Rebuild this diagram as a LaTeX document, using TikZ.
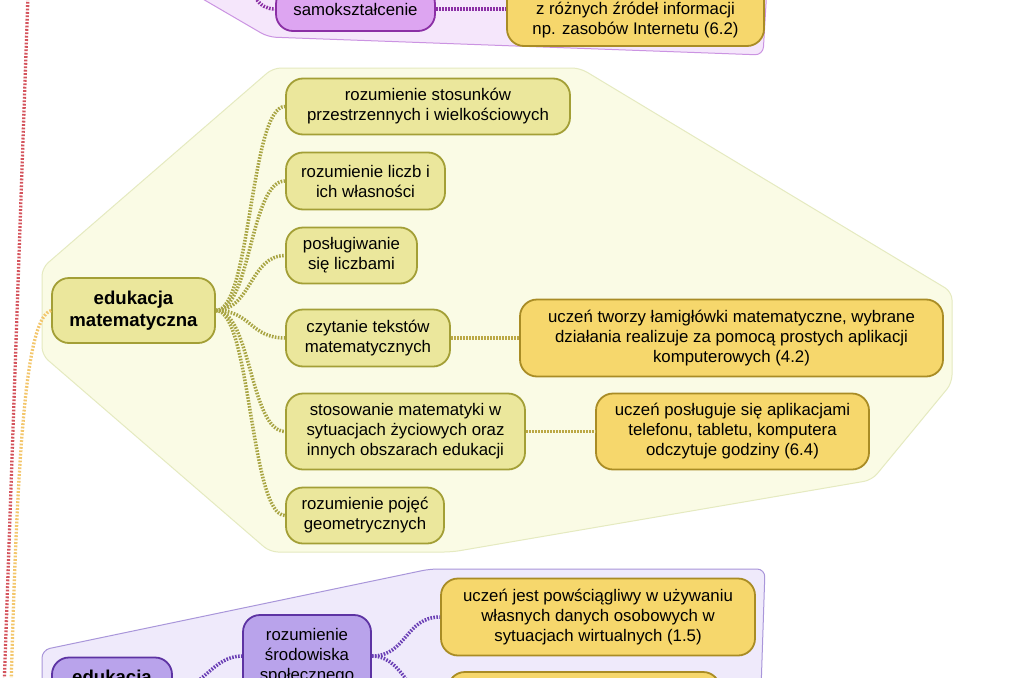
\documentclass[tikz,border=0pt]{standalone}
\usepackage{fontspec}
\setmainfont{Liberation Sans}
\definecolor{oliveF}{HTML}{EBE79C}
\definecolor{oliveD}{HTML}{A39F36}
\definecolor{oliveL}{HTML}{A8A442}
\definecolor{goldF}{HTML}{F6D76C}
\definecolor{goldD}{HTML}{A98C25}
\definecolor{goldL}{HTML}{BBA845}
\definecolor{yelF}{HTML}{FAFBE5}
\definecolor{yelD}{HTML}{E5EAC0}
\definecolor{purF}{HTML}{F5E6FB}
\definecolor{purD}{HTML}{CB94E2}
\definecolor{samoF}{HTML}{DDA5F1}
\definecolor{samoD}{HTML}{8B2FA5}
\definecolor{lavRF}{HTML}{EFEAFB}
\definecolor{lavRD}{HTML}{A996DA}
\definecolor{lavF}{HTML}{B9A3EB}
\definecolor{lavD}{HTML}{5D33A3}
\definecolor{lavL}{HTML}{6A3FB5}
\definecolor{redL}{HTML}{D4535C}
\definecolor{orgL}{HTML}{F3C66B}
\begin{document}
\begin{tikzpicture}[x=1pt,y=-1pt,
  every node/.style={font=\fontsize{16.8}{20}\selectfont, align=center, inner sep=0pt},
  box/.style={draw, line width=1.8pt, rounded corners=17pt},
  olivebox/.style={box, fill=oliveF, draw=oliveD},
  goldbox/.style={box, fill=goldF, draw=goldD},
  samobox/.style={box, fill=samoF, draw=samoD},
  lavbox/.style={box, fill=lavF, draw=lavD},
  boldtext/.style={font=\bfseries\fontsize{18.6}{22.5}\selectfont},
  region/.style={line width=1pt, rounded corners=8pt},
  dotc/.style={line width=3.5pt, dash pattern=on 1.6pt off 1.4pt},
  thindot/.style={line width=3.3pt, dash pattern=on 1.8pt off 1.6pt},
]
\useasboundingbox (0,0) rectangle (1024,677);
\clip (0,0) rectangle (1024,677);
\fill[white] (0,0) rectangle (1024,677);

% regions
\draw[region, fill=purF, draw=purD] (153,-30) -- (268,37) -- (763,55) -- (768,-30);
\draw[region, fill=yelF, draw=yelD] (273,68) -- (580,68) -- (952,292) -- (952,383) -- (872,480) -- (452,552) -- (270,552) -- (42,355) -- (42,268) -- cycle;
\draw[region, fill=lavRF, draw=lavRD] (42,720) -- (42,650) -- (430,569) -- (765,569) -- (760,720);

% left connectors from off-picture
\coordinate (redA) at (28,-5);
\coordinate (redB) at (4,690);
\coordinate (orgB) at (11,690);
\coordinate (pin) at (245,-40);
\draw[thindot, draw=redL] (redA) -- (redB);

% nodes: top
\node[samobox, minimum width=159, minimum height=44] (samo) at (355.5,9) {samokształcenie};
\node[goldbox, minimum width=257, minimum height=74] (zr) at (635.5,9) {\strut\\z różnych źródeł informacji\\np. zasobów Internetu (6.2)};

% nodes: middle
\node[olivebox, boldtext, minimum width=163, minimum height=65] (em) at (133.5,310.5) {edukacja\\matematyczna};
\node[olivebox, minimum width=284, minimum height=56] (c1) at (428,106.5) {rozumienie stosunków\\przestrzennych i wielkościowych};
\node[olivebox, minimum width=159, minimum height=57] (c2) at (365.5,181) {rozumienie liczb i\\ich własności};
\node[olivebox, minimum width=131, minimum height=56] (c3) at (351.5,255.5) {posługiwanie\\się liczbami};
\node[olivebox, minimum width=164, minimum height=57] (c4) at (368,338) {czytanie tekstów\\matematycznych};
\node[olivebox, minimum width=239, minimum height=76] (c5) at (405.5,431.5) {stosowanie matematyki w\\sytuacjach życiowych oraz\\innych obszarach edukacji};
\node[olivebox, minimum width=158, minimum height=56] (c6) at (365,515.5) {rozumienie pojęć\\geometrycznych};
\node[goldbox, minimum width=423, minimum height=77] (g1) at (731.5,338) {uczeń tworzy łamigłówki matematyczne, wybrane\\działania realizuje za pomocą prostych aplikacji\\komputerowych (4.2)};
\node[goldbox, minimum width=273, minimum height=76] (g2) at (732.5,431.5) {uczeń posługuje się aplikacjami\\telefonu, tabletu, komputera\\odczytuje godziny (6.4)};

% nodes: bottom
\node[lavbox, boldtext, minimum width=120, minimum height=65] (es) at (112,690) {edukacja\\społeczna};
\node[lavbox, minimum width=128, minimum height=82] (rs) at (307,656) {rozumienie\\środowiska\\społecznego};
\node[goldbox, minimum width=314, minimum height=77] (u1) at (598,617) {uczeń jest powściągliwy w używaniu\\własnych danych osobowych w\\sytuacjach wirtualnych (1.5)};
\node[goldbox, minimum width=272, minimum height=80] (u2) at (584,712) {};

% connectors
\draw[thindot, draw=orgL] (em.west) .. controls (28,318) and (18,420) .. (orgB);
\draw[dotc, draw=samoD] (pin) .. controls (250,-5) and (258,9) .. (samo.west);
\draw[dotc, draw=samoD] (samo.east) -- (zr.west);
\foreach \c in {c1,c2,c3,c4,c5,c6}
  \draw[dotc, draw=oliveL] (em.east) .. controls +(35,0) and +(-35,0) .. (\c.west);
\draw[dotc, draw=goldL] (c4.east) -- (g1.west);
\draw[dotc, draw=goldL] (c5.east) -- (g2.west);
\draw[dotc, draw=lavL] (es.east) .. controls +(30,0) and +(-30,0) .. (rs.west);
\draw[dotc, draw=lavL] (rs.east) .. controls +(35,0) and +(-35,0) .. (u1.west);
\draw[dotc, draw=lavL] (rs.east) .. controls +(35,0) and +(-35,0) .. (u2.west);
\end{tikzpicture}
\end{document}
